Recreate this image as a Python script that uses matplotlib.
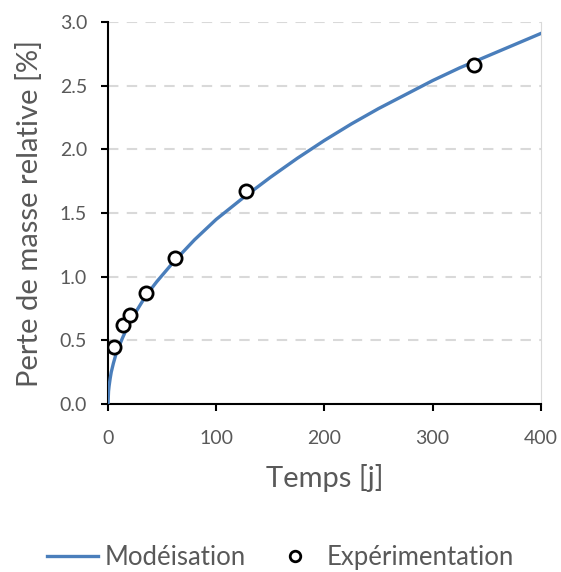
import numpy as np
import matplotlib.pyplot as plt

# Model curve
t_model = [0, 0.5, 1, 2, 3, 5, 7, 10, 14, 20, 27, 35, 45, 60, 80, 100, 125, 150,
           175, 200, 225, 250, 275, 300, 325, 350, 375, 400]
y_model = [0.0, 0.10, 0.14, 0.20, 0.25, 0.32, 0.38, 0.45, 0.53, 0.64, 0.74, 0.85, 0.96,
           1.11, 1.29, 1.45, 1.62, 1.78, 1.93, 2.07, 2.20, 2.32, 2.43, 2.54, 2.64, 2.73,
           2.82, 2.91]

# Experimental points
t_exp = [6, 14, 20, 35, 62, 128, 338]
y_exp = [0.45, 0.62, 0.70, 0.87, 1.15, 1.67, 2.66]

plt.rcParams['font.family'] = ['Lato', 'DejaVu Sans']
grey = '#595959'

fig = plt.figure(figsize=(5.61, 5.72), dpi=100)
ax = fig.add_axes([0.1925, 0.2937, 0.7715, 0.6678])

ax.plot(t_model, y_model, color='#4a7ebb', lw=2.4, label='Modéisation', zorder=3)
ax.plot(t_exp, y_exp, 'o', ms=9.5, mfc='white', mec='black', mew=2, label='Expérimentation', zorder=4)

ax.set_xlim(0, 400)
ax.set_ylim(0, 3.0)
ax.set_xticks([0, 100, 200, 300, 400])
ax.set_yticks(np.arange(0, 3.01, 0.5))
ax.yaxis.set_major_formatter(plt.FormatStrFormatter('%.1f'))
ax.grid(axis='y', color='#d9d9d9', ls=(0, (5, 4)), lw=1.5)
ax.set_axisbelow(True)

for s in ['left', 'bottom']:
    ax.spines[s].set_color('black')
    ax.spines[s].set_linewidth(1.5)
ax.spines['top'].set_visible(False)
ax.spines['right'].set_color('#d9d9d9')
ax.tick_params(direction='out', length=5, width=1.5, colors='black', labelcolor=grey, labelsize=14)
ax.tick_params(axis='x', pad=14)
ax.tick_params(axis='y', pad=10)

ax.set_xlabel('Temps [j]', fontsize=21, color=grey, labelpad=12)
ax.set_ylabel('Perte de masse relative [%]', fontsize=21, color=grey, labelpad=12)

fig.legend(loc='center', bbox_to_anchor=(0.5, 0.026), ncol=2, frameon=False,
           fontsize=18.5, labelcolor=grey, handlelength=2.0, handletextpad=0.25,
           columnspacing=0.9, markerscale=0.8, borderpad=0)

fig.savefig('out.png', dpi=100)
